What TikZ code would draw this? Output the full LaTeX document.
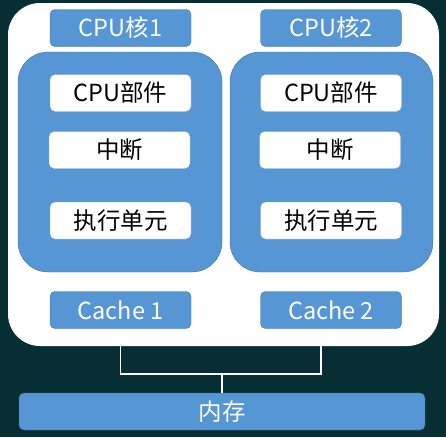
\documentclass[tikz,border=0pt]{standalone}
\usepackage{fontspec}
\setmainfont{Noto Sans CJK SC}
\definecolor{bgdark}{RGB}{6,46,51}
\definecolor{boxblue}{RGB}{86,150,212}
\definecolor{boxline}{RGB}{65,113,156}
\tikzset{
  boxtext/.style={font=\fontsize{23.5}{26}\selectfont, inner sep=0pt},
  bluebox/.style={boxtext, draw=boxline, fill=boxblue, text=white, rounded corners=5pt},
  whitebox/.style={boxtext, draw=boxline!60, fill=white, text=black, rounded corners=5pt},
  unitbox/.style={minimum width=141pt, minimum height=37pt},
}
\begin{document}
\begin{tikzpicture}[x=1pt,y=-1pt]
\fill[bgdark] (0,0) rectangle (446,437);
\useasboundingbox (0,0) rectangle (446,437);
% outer chip
\fill[white, rounded corners=32pt] (8,3) rectangle (439,346);
% core areas
\filldraw[draw=boxline, fill=boxblue, rounded corners=30pt] (18,52) rectangle (222,272);
\filldraw[draw=boxline, fill=boxblue, rounded corners=30pt] (230,52) rectangle (433,272);
% core 1
\node[bluebox, unitbox] (core1) at (120.5,28) {CPU核1};
\node[whitebox, unitbox] (part1) at (120.5,93) {CPU部件};
\node[whitebox, unitbox] (intr1) at (119.5,150) {中断};
\node[whitebox, unitbox] (exec1) at (120.5,220.5) {执行单元};
\node[bluebox, unitbox] (cache1) at (120.5,310) {Cache 1};
% core 2
\node[bluebox, unitbox] (core2) at (331,28) {CPU核2};
\node[whitebox, unitbox] (part2) at (331,93) {CPU部件};
\node[whitebox, unitbox] (intr2) at (330,150) {中断};
\node[whitebox, unitbox] (exec2) at (331,220.5) {执行单元};
\node[bluebox, unitbox] (cache2) at (331,310) {Cache 2};
% memory
\node[bluebox, minimum width=406pt, minimum height=37pt] (mem) at (222,411.5) {内存};
\coordinate (join) at (mem.north |- 0,374);
\coordinate (tap2) at ([xshift=-10pt]cache2.south);
\draw[white, line width=1.2pt] (cache1.south) |- (join) -| (tap2);
\draw[white, line width=1.2pt] (join) -- (mem.north);
\end{tikzpicture}
\end{document}
